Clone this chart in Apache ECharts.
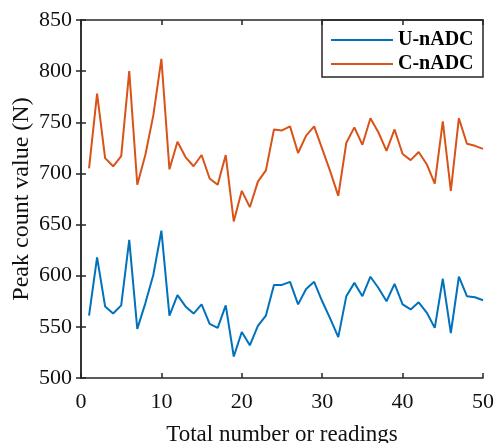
<!DOCTYPE html>
<html>
<head>
<meta charset="utf-8">
<script src="https://cdn.jsdelivr.net/npm/echarts@6/dist/echarts.min.js"></script>
<style>html,body{margin:0;padding:0;background:#fff;}#c{width:497px;height:443px;}</style>
</head>
<body>
<div id="c"></div>
<script>
const readings = [1,2,3,4,5,6,7,8,9,10,11,12,13,14,15,16,17,18,19,20,21,22,23,24,25,26,27,28,29,30,31,32,33,34,35,36,37,38,39,40,41,42,43,44,45,46,47,48,49,50];
const uNADC = [561,618,570,563,571,635,548,573,601,644,561,581,570,563,572,553,549,571,521,545,532,551,561,591,591,594,572,587,594,575,558,540,580,593,580,599,588,575,592,572,567,574,564,549,597,544,599,580,579,576];
const cNADC = [705,778,715,707,717,800,689,718,757,812,704,731,716,707,718,695,689,718,653,683,667,692,703,743,742,746,720,737,746,724,702,678,730,745,728,754,740,722,743,719,713,721,709,690,751,683,754,729,727,724];
const xTicks = [0,10,20,30,40,50];
const yTicks = [500,550,600,650,700,750,800,850];
const seriesNames = ['U-nADC','C-nADC'];

const font = 'Liberation Serif';
const axisColor = '#262626';
const textColor = '#111';
const chart = echarts.init(document.getElementById('c'));
const mk = (arr) => readings.map((r, i) => [r, arr[i]]);
const hiddenAxisCommon = {
  axisLine: {show: true, lineStyle: {color: axisColor, width: 1.5}},
  axisTick: {show: true, inside: true, length: 5, lineStyle: {color: axisColor, width: 1.5}},
  axisLabel: {show: false},
  splitLine: {show: false}
};
chart.setOption({
  animation: false,
  backgroundColor: '#fff',
  grid: {left: 81, right: 14, top: 20, bottom: 65, containLabel: false, outerBoundsMode: 'none'},
  legend: {
    data: seriesNames,
    orient: 'vertical',
    left: 326, top: 25,
    itemWidth: 62, itemHeight: 2, itemGap: 4,
    icon: 'rect',
    textStyle: {fontFamily: font, fontSize: 20, color: '#000', fontWeight: 'bold'}
  },
  graphic: [{
    type: 'rect', z: 0, zlevel: 0,
    shape: {x: 322, y: 20, width: 161, height: 57},
    style: {fill: '#fff', stroke: axisColor, lineWidth: 1.5}
  }],
  xAxis: [{
    type: 'value', min: 0, max: 50, interval: 10,
    name: 'Total number or readings', nameLocation: 'middle', nameGap: 45, nameMoveOverlap: false,
    nameTextStyle: {fontFamily: font, fontSize: 23, color: textColor},
    axisLine: {show: true, lineStyle: {color: axisColor, width: 1.5}},
    axisTick: {show: true, inside: true, length: 5, lineStyle: {color: axisColor, width: 1.5}},
    axisLabel: {fontFamily: font, fontSize: 22, color: textColor, margin: 13,
      formatter: v => xTicks.includes(v) ? String(v) : ''},
    splitLine: {show: false}
  }, Object.assign({type: 'value', min: 0, max: 50, interval: 10, position: 'top'}, hiddenAxisCommon)],
  yAxis: [{
    type: 'value', min: 500, max: 850, interval: 50,
    name: 'Peak count value (N)', nameLocation: 'middle', nameGap: 47, nameMoveOverlap: false,
    nameTextStyle: {fontFamily: font, fontSize: 24, color: textColor},
    axisLine: {show: true, lineStyle: {color: axisColor, width: 1.5}},
    axisTick: {show: true, inside: true, length: 5, lineStyle: {color: axisColor, width: 1.5}},
    axisLabel: {fontFamily: font, fontSize: 22, color: textColor, margin: 9,
      formatter: v => yTicks.includes(v) ? String(v) : ''},
    splitLine: {show: false}
  }, Object.assign({type: 'value', min: 500, max: 850, interval: 50, position: 'right'}, hiddenAxisCommon)],
  series: [{
    name: seriesNames[0], type: 'line', data: mk(uNADC), showSymbol: false, symbol: 'none',
    lineStyle: {color: '#0072BD', width: 2}, itemStyle: {color: '#0072BD'}
  }, {
    name: seriesNames[1], type: 'line', data: mk(cNADC), showSymbol: false, symbol: 'none',
    lineStyle: {color: '#D95319', width: 2}, itemStyle: {color: '#D95319'}
  }]
});
</script>
</body>
</html>
